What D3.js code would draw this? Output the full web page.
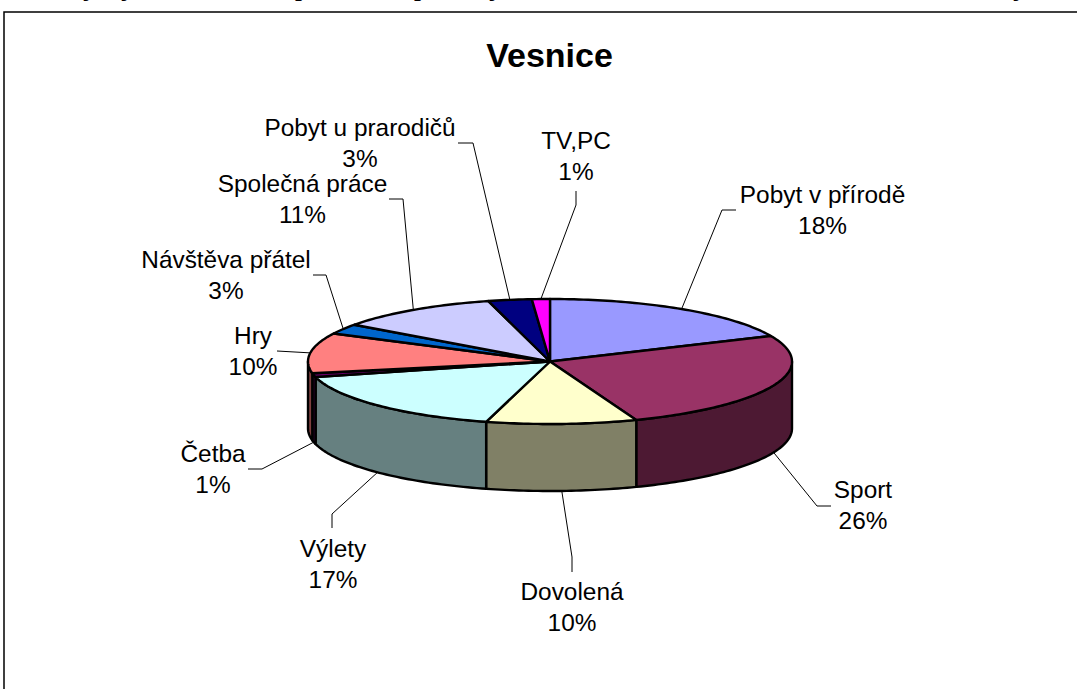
<!DOCTYPE html>
<html>
<head>
<meta charset="utf-8">
<script src="https://cdn.jsdelivr.net/npm/d3@7"></script>
<style>
  html, body { margin: 0; padding: 0; background: #fff; overflow: hidden; }
  svg { display: block; }
  text { font-family: "Liberation Sans", Arial, sans-serif; fill: #000; }
</style>
</head>
<body>
<svg id="chart"></svg>
<script>
// values (labels are these rounded)
const categories = ["Pobyt v přírodě", "Sport", "Dovolená", "Výlety", "Četba", "Hry",
  "Návštěva přátel", "Společná práce", "Pobyt u prarodičů", "TV,PC"];
const shares = [18.3, 25.9, 10.05, 16.75, 1, 10.4, 2.6, 10.9, 2.9, 1.2];
const topColors = ["#9999ff", "#993366", "#ffffcc", "#ccffff", "#660066", "#ff8080",
  "#0066cc", "#ccccff", "#000080", "#ff00ff"];
const wallColors = ["#4d4d80", "#4d1933", "#808066", "#668080", "#330033", "#804040",
  "#003366", "#666680", "#000040", "#800080"];

// label centre x, first baseline y, leader elbow and leader end
const labelLayout = [
  { x: 822.5, y: 203, leader: [[722, 210], [736, 210]] },
  { x: 863, y: 498, leader: [[817, 506], [831, 506]] },
  { x: 572, y: 600, leader: [[572, 557], [572, 572]] },
  { x: 333, y: 557, leader: [[332, 514], [332, 528]] },
  { x: 213, y: 462, leader: [[262, 469], [248, 469]] },
  { x: 253, y: 344, leader: [[277, 351]] },
  { x: 226, y: 268, leader: [[326, 275], [313, 275]] },
  { x: 302.5, y: 192, leader: [[403, 199], [389, 199]] },
  { x: 360, y: 136, leader: [[473, 143], [458, 143]] },
  { x: 576, y: 149, leader: [[576, 205], [576, 191]] }
];

// bottoms of the line of text that is cut off above the frame
const cutOffGlyphs = [["j", 90], ["j", 128], ["p", 303], ["p", 422], ["j", 496], ["j", 1020]];

const width = 1077, height = 689;
const cx = 550, cy = 361.5, rx = 242, ry = 62.5, depth = 67;

const svg = d3.select("#chart").attr("width", width).attr("height", height);

const x = d3.scaleLinear().domain([-1, 1]).range([cx - rx, cx + rx]);
const y = d3.scaleLinear().domain([-1, 1]).range([cy - ry, cy + ry]);

const pie = d3.pie().sort(null).value(d => d);
const arcs = pie(shares);

const line = d3.line().x(d => d[0]).y(d => d[1]);

function rimPoint(angle, drop) {
  return [x(Math.sin(angle)), y(-Math.cos(angle)) + drop];
}

function rimPoints(a0, a1, drop) {
  const steps = Math.max(2, Math.ceil((a1 - a0) / 0.02));
  return d3.range(steps + 1).map(i => rimPoint(a0 + (a1 - a0) * i / steps, drop));
}

// frame, open at the right and bottom
svg.append("path")
  .attr("d", line([[4, height], [4, 12], [width, 12]]))
  .attr("fill", "none")
  .attr("stroke", "#000")
  .attr("stroke-width", 1.5);

svg.selectAll(".cut")
  .data(cutOffGlyphs)
  .join("text")
  .attr("class", "cut")
  .attr("x", d => d[1])
  .attr("y", -4)
  .attr("text-anchor", "middle")
  .style("font-family", "'Liberation Serif', serif")
  .style("font-weight", "bold")
  .style("font-style", "italic")
  .style("font-size", "24px")
  .text(d => d[0]);

svg.append("text")
  .attr("x", 549.5)
  .attr("y", 67)
  .attr("text-anchor", "middle")
  .style("font-weight", "bold")
  .style("font-size", "34px")
  .text("Vesnice");

// outer wall, only the part facing us
const front = arcs
  .map((d, i) => ({ i, a0: Math.max(d.startAngle, Math.PI / 2), a1: Math.min(d.endAngle, Math.PI * 1.5) }))
  .filter(d => d.a1 > d.a0);

svg.selectAll(".wall")
  .data(front)
  .join("path")
  .attr("class", "wall")
  .attr("d", d => line(rimPoints(d.a0, d.a1, 0).concat(rimPoints(d.a0, d.a1, depth).reverse())) + "Z")
  .attr("fill", d => wallColors[d.i])
  .attr("stroke", "#000")
  .attr("stroke-width", 2.4)
  .attr("stroke-linejoin", "round");

svg.selectAll(".slice")
  .data(arcs)
  .join("path")
  .attr("class", "slice")
  .attr("d", d => line([[x(0), y(0)]].concat(rimPoints(d.startAngle, d.endAngle, 0))) + "Z")
  .attr("fill", (d, i) => topColors[i])
  .attr("stroke", "#000")
  .attr("stroke-width", 2.4)
  .attr("stroke-linejoin", "round");

// leader lines start on the rim at the middle of the slice
svg.selectAll(".leader")
  .data(arcs)
  .join("path")
  .attr("class", "leader")
  .attr("d", (d, i) => {
    const mid = (d.startAngle + d.endAngle) / 2;
    const isFront = mid > Math.PI / 2 && mid < Math.PI * 1.5;
    return line([rimPoint(mid, isFront ? depth : 0)].concat(labelLayout[i].leader));
  })
  .attr("fill", "none")
  .attr("stroke", "#000")
  .attr("stroke-width", 1);

const labels = svg.selectAll(".label")
  .data(arcs)
  .join("text")
  .attr("class", "label")
  .attr("text-anchor", "middle")
  .style("font-size", "24.4px");

labels.append("tspan")
  .attr("x", (d, i) => labelLayout[i].x)
  .attr("y", (d, i) => labelLayout[i].y)
  .text((d, i) => categories[i]);

labels.append("tspan")
  .attr("x", (d, i) => labelLayout[i].x)
  .attr("y", (d, i) => labelLayout[i].y + 31)
  .text(d => Math.round(d.value) + "%");
</script>
</body>
</html>
